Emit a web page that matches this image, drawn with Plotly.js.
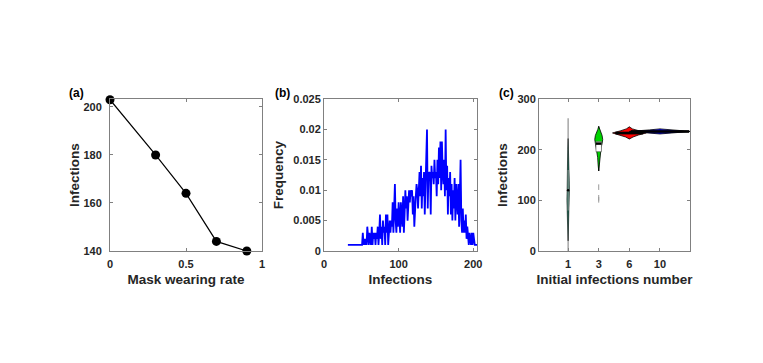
<!DOCTYPE html>
<html>
<head>
<meta charset="utf-8">
<script src="https://cdn.plot.ly/plotly-3.0.1.min.js"></script>
<style>html,body{margin:0;padding:0;background:#fff;}#chart{width:763px;height:363px;}</style>
</head>
<body>
<div id="chart"></div>
<script>
// ---------- Panel (a): infections vs mask wearing rate ----------
const maskRate = [0, 0.3, 0.5, 0.7, 0.9];
const maskInfections = [203, 180, 164, 144, 140];

// ---------- Panel (b): frequency distribution of infections ----------
const histInfections = [32,51,52,53,54,55,56,57,58,59,60,61,62,63,64,65,66,67,68,69,70,71,72,73,74,75,76,77,78,79,80,81,82,83,84,85,86,87,88,89,90,91,92,93,94,95,96,97,98,99,100,101,102,103,104,105,106,107,108,109,110,111,112,113,114,115,116,117,118,119,120,121,122,123,124,125,126,127,128,129,130,131,132,133,134,135,136,137,138,139,140,141,142,143,144,145,146,147,148,149,150,151,152,153,154,155,156,157,158,159,160,161,162,163,164,165,166,167,168,169,170,171,172,173,174,175,176,177,178,179,180,181,182,183,184,185,186,187,188,189,190,191,192,193,194,195,196,197,198,199,200,201,202,205];
const histFrequency = [0.001,0.001,0.003,0.001,0.002,0.001,0.002,0.001,0.004,0.002,0.001,0.003,0.002,0.001,0.004,0.001,0.003,0.002,0.003,0.001,0.003,0.002,0.004,0.001,0.003,0.006,0.002,0.004,0.001,0.005,0.003,0.004,0.001,0.006,0.003,0.006,0.001,0.004,0.005,0.003,0.005,0.004,0.008,0.003,0.006,0.011,0.005,0.003,0.007,0.004,0.008,0.005,0.003,0.008,0.006,0.004,0.009,0.003,0.006,0.010,0.007,0.009,0.005,0.008,0.010,0.008,0.010,0.009,0.010,0.006,0.009,0.004,0.008,0.009,0.011,0.010,0.007,0.011,0.013,0.009,0.014,0.007,0.012,0.009,0.013,0.006,0.011,0.013,0.020,0.007,0.013,0.012,0.013,0.006,0.014,0.012,0.013,0.011,0.015,0.012,0.013,0.009,0.015,0.011,0.017,0.012,0.018,0.010,0.018,0.013,0.011,0.015,0.009,0.020,0.010,0.014,0.006,0.012,0.009,0.013,0.006,0.011,0.005,0.010,0.007,0.012,0.005,0.011,0.008,0.006,0.011,0.004,0.009,0.015,0.005,0.003,0.007,0.003,0.005,0.003,0.006,0.002,0.004,0.003,0.001,0.003,0.002,0.001,0.003,0.001,0.003,0.002,0.001,0.001];

// ---------- Panel (c): violins by initial infections number ----------
const initialLabels = ['1', '3', '6', '10'];
const violinPos = [1, 2, 3, 4];
const violinColors = ['#1d6e58', '#00d400', '#ff0000', '#0000ff'];
const violinY = [
  [20, 40, 60, 80, 100, 120, 140, 160, 180, 200, 222],
  [158, 170, 185, 195, 205, 212, 220, 228, 235, 240, 246],
  [221, 225, 229, 232, 233, 234, 237, 241, 245],
  [231, 233, 235, 236, 237, 239, 241]
];
const violinHalfWidth = [
  [0, 0.012, 0.022, 0.032, 0.04, 0.045, 0.04, 0.032, 0.022, 0.012, 0],
  [0, 0.02, 0.035, 0.05, 0.08, 0.11, 0.13, 0.11, 0.07, 0.03, 0],
  [0, 0.12, 0.3, 0.5, 0.55, 0.5, 0.3, 0.1, 0],
  [0, 0.35, 0.8, 1.0, 0.8, 0.35, 0]
];
const whiskerLow = [0, 158, 221, 231];
const whiskerHigh = [262, 246, 245, 241];
const boxQ1 = [80, 196, 231, 235];
const boxQ3 = [160, 216, 234, 237];
const boxMedian = [120, 212, 233, 236];
const boxHalfWidth = [0.015, 0.09, 0.45, 0.95];
const boxColors = ['#9a9a9a', '#ffffff', '#000000', '#000000'];
const outlierPos = [2, 2, 2];
const outlierY = [126, 101, 105];

// ---------- build traces ----------
const FONT = 'Liberation Sans, Arial, Helvetica, sans-serif';
const TXT = '#262626';
const traces = [];

traces.push({
  type: 'scatter', mode: 'lines+markers', x: maskRate, y: maskInfections,
  xaxis: 'x', yaxis: 'y', cliponaxis: false,
  line: {color: '#000', width: 1.2},
  marker: {color: '#000', size: 9},
  hoverinfo: 'x+y', showlegend: false
});

traces.push({
  type: 'scatter', mode: 'lines', x: histInfections, y: histFrequency,
  xaxis: 'x2', yaxis: 'y2',
  line: {color: '#0000ff', width: 1.8},
  showlegend: false
});

// whiskers
for (let i = 0; i < violinPos.length; i++) {
  traces.push({
    type: 'scatter', mode: 'lines', xaxis: 'x3', yaxis: 'y3',
    x: [violinPos[i], violinPos[i]], y: [whiskerLow[i], whiskerHigh[i]],
    line: {color: i === 0 ? '#7a7a7a' : '#000', width: 1}, showlegend: false, hoverinfo: 'skip'
  });
}
// violins
for (let i = 0; i < violinPos.length; i++) {
  const ys = violinY[i], ws = violinHalfWidth[i], p = violinPos[i];
  const xs = [], yy = [];
  for (let k = 0; k < ys.length; k++) { xs.push(p + ws[k]); yy.push(ys[k]); }
  for (let k = ys.length - 1; k >= 0; k--) { xs.push(p - ws[k]); yy.push(ys[k]); }
  traces.push({
    type: 'scatter', mode: 'lines', xaxis: 'x3', yaxis: 'y3',
    x: xs, y: yy, fill: 'toself', fillcolor: violinColors[i],
    line: {color: '#000', width: i === 0 ? 0.5 : 0.8}, showlegend: false, hoverinfo: 'skip'
  });
}
// boxes
for (let i = 0; i < violinPos.length; i++) {
  const p = violinPos[i], h = boxHalfWidth[i];
  traces.push({
    type: 'scatter', mode: 'lines', xaxis: 'x3', yaxis: 'y3',
    x: [p - h, p + h, p + h, p - h, p - h], y: [boxQ1[i], boxQ1[i], boxQ3[i], boxQ3[i], boxQ1[i]],
    fill: 'toself', fillcolor: boxColors[i],
    line: {color: i === 1 ? '#555' : boxColors[i], width: i === 0 ? 0 : 0.6}, showlegend: false, hoverinfo: 'skip'
  });
}
// medians
for (let i = 0; i < violinPos.length; i++) {
  const p = violinPos[i], h = boxHalfWidth[i];
  traces.push({
    type: 'scatter', mode: i === 0 ? 'markers' : 'lines', xaxis: 'x3', yaxis: 'y3',
    x: i === 0 ? [p] : [p - h, p + h], y: i === 0 ? [boxMedian[i]] : [boxMedian[i], boxMedian[i]],
    line: {color: '#000', width: 2.5}, marker: {color: '#000', size: 2.5},
    showlegend: false, hoverinfo: 'skip'
  });
}
traces.push({
  type: 'scatter', mode: 'markers', xaxis: 'x3', yaxis: 'y3',
  x: outlierPos, y: outlierY,
  marker: {symbol: 'line-ns', size: 4, line: {color: '#999', width: 1}},
  showlegend: false, hoverinfo: 'skip'
});

const W = 763, H = 363;
function dx(a, b) { return [a / W, b / W]; }
function dy(top, bottom) { return [(H - bottom) / H, (H - top) / H]; }

function axisBase(extra) {
  return Object.assign({
    showline: true, linecolor: '#808080', linewidth: 1, mirror: 'allticks',
    ticks: 'inside', ticklen: 3, tickcolor: '#808080', tickwidth: 1,
    showgrid: false, zeroline: false, automargin: false,
    tickfont: {family: FONT, size: 11, color: TXT, weight: 'bold'}
  }, extra);
}
function titleObj(t, standoff) {
  return {text: '<b>' + t + '</b>', font: {family: FONT, size: 13.5, color: TXT}, standoff: standoff};
}

const layout = {
  width: W, height: H,
  margin: {l: 0, r: 0, t: 0, b: 0},
  paper_bgcolor: '#fff', plot_bgcolor: '#fff',
  font: {family: FONT, color: TXT},
  showlegend: false,
  xaxis: axisBase({domain: dx(110, 262), anchor: 'y', range: [0, 1],
    tickvals: [0, 0.5, 1], ticktext: ['0', '0.5', '1'], ticklabelstandoff: 3,
    title: titleObj('Mask wearing rate', 5)}),
  yaxis: axisBase({domain: dy(99, 251), anchor: 'x', range: [140, 203.3],
    tickvals: [140, 160, 180, 200], ticktext: ['140', '160', '180', '200'],
    title: titleObj('Infections', 0), ticklabelstandoff: 5}),
  xaxis2: axisBase({domain: dx(324, 477), anchor: 'y2', range: [0, 205],
    tickvals: [0, 100, 200], ticktext: ['0', '100', '200'], ticklabelstandoff: 3,
    title: titleObj('Infections', 5)}),
  yaxis2: axisBase({domain: dy(99, 251), anchor: 'x2', range: [0, 0.025],
    tickvals: [0, 0.005, 0.01, 0.015, 0.02, 0.025],
    ticktext: ['0', '0.005', '0.01', '0.015', '0.02', '0.025'],
    title: titleObj('Frequency', 6)}),
  xaxis3: axisBase({domain: dx(539, 690), anchor: 'y3', range: [0.05, 4.98],
    tickvals: violinPos, ticktext: initialLabels, ticklabelstandoff: 3,
    title: titleObj('Initial infections number', 5)}),
  yaxis3: axisBase({domain: dy(99, 251), anchor: 'x3', range: [0, 300],
    tickvals: [0, 100, 200, 300], ticktext: ['0', '100', '200', '300'],
    title: titleObj('Infections', 6)}),
  annotations: [
    {text: '<b>(a)</b>', x: 67 / W, y: (H - 93) / H},
    {text: '<b>(b)</b>', x: 273 / W, y: (H - 93) / H},
    {text: '<b>(c)</b>', x: 497 / W, y: (H - 93) / H}
  ].map(a => Object.assign({xref: 'paper', yref: 'paper', xanchor: 'left', yanchor: 'middle',
    showarrow: false, font: {family: FONT, size: 12, color: '#000'}}, a))
};

Plotly.newPlot('chart', traces, layout, {displayModeBar: false, staticPlot: true});
</script>
</body>
</html>
